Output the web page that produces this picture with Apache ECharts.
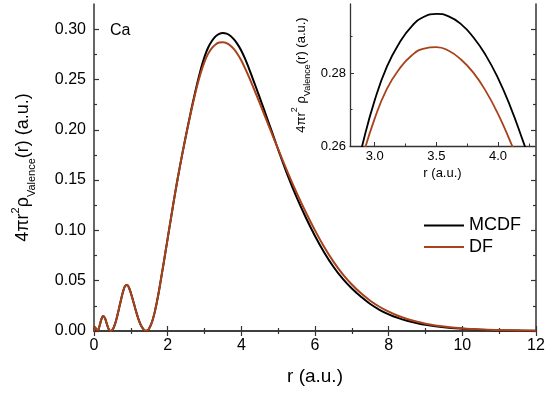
<!DOCTYPE html>
<html><head><meta charset="utf-8">
<script src="https://cdn.jsdelivr.net/npm/echarts@6/dist/echarts.min.js"></script>
<style>html,body{margin:0;padding:0;background:#fff}#c{width:550px;height:394px}</style>
</head><body><div id="c"></div>
<script>
// r (a.u.) sample positions
const r = [0,0.03,0.06,0.1,0.15,0.2,0.25,0.3,0.35,0.4,
  0.45,0.5,0.55,0.6,0.65,0.7,0.75,0.8,0.85,0.9,
  0.95,1.0,1.05,1.1,1.15,1.2,1.25,1.3,1.35,1.4,
  1.45,1.5,1.55,1.6,1.65,1.7,1.75,1.8,1.85,1.9,
  1.95,2.0,2.1,2.2,2.3,2.4,
  2.5,2.6,2.7,2.8,2.9,3.0,3.1,3.2,3.3,3.4,
  3.5,3.6,3.7,3.8,3.9,4.0,4.1,4.2,4.3,4.4,
  4.5,4.6,4.7,4.8,4.9,5.0,
  5.25,5.5,5.75,6.0,6.25,6.5,6.75,7.0,7.25,7.5,
  7.75,8.0,8.25,8.5,8.75,9.0,
  9.5,10,10.5,11,11.5,12];
// MCDF valence density
const mcdf = [0,0.0035,0.002,0.0003,0.005,0.0115,0.0148,0.0125,0.0068,0.0018,
  0,0.0012,0.0048,0.0105,0.0178,0.0258,0.0336,0.0405,0.0450,0.0458,
  0.0430,0.0378,0.0316,0.0250,0.0185,0.0126,0.0077,0.0039,0.0014,0.0002,
  0.0005,0.0027,0.0065,0.0120,0.0190,0.0275,0.0370,0.0475,0.0585,0.0695,
  0.0808,0.0920,0.1145,0.1365,0.1572,0.1765,
  0.1950,0.2128,0.2298,0.2458,0.2602,0.2725,0.2818,0.2882,0.2928,0.2954,
  0.2962,0.2955,0.2934,0.2898,0.2849,0.2786,0.2708,0.2616,0.2519,0.2420,
  0.2319,0.2217,0.2114,0.2011,0.1907,0.1803,
  0.1555,0.1330,0.1128,0.0945,0.0781,0.0639,0.0520,0.0422,0.0340,0.0268,
  0.0211,0.0166,0.0130,0.0102,0.0080,0.0062,
  0.0037,0.0022,0.0012,0.0007,0.0004,0.0002];
// DF valence density
const df = [0,0.0035,0.002,0.0003,0.005,0.0115,0.0148,0.0125,0.0068,0.0018,
  0,0.0012,0.0048,0.0105,0.0178,0.0258,0.0336,0.0405,0.0450,0.0458,
  0.0430,0.0378,0.0316,0.0250,0.0185,0.0126,0.0077,0.0039,0.0014,0.0002,
  0.0005,0.0027,0.0065,0.0120,0.0190,0.0275,0.0370,0.0475,0.0585,0.0695,
  0.0808,0.0920,0.1145,0.1365,0.1572,0.1765,
  0.1945,0.2120,0.2285,0.2437,0.2568,0.2675,0.2757,0.2811,0.2848,0.2867,
  0.2871,0.2861,0.2837,0.2801,0.2751,0.2688,0.2612,0.2530,0.2444,0.2355,
  0.2264,0.2172,0.2080,0.1988,0.1897,0.1807,
  0.1585,0.1375,0.1180,0.1000,0.0835,0.0690,0.0566,0.0462,0.0374,0.0301,
  0.0241,0.0192,0.0152,0.0120,0.0094,0.0073,
  0.0044,0.0026,0.0015,0.0009,0.0005,0.0003];

const yTicks = [0,0.05,0.10,0.15,0.20,0.25,0.30];
const yMinor = [0.025,0.075,0.125,0.175,0.225,0.275];
const insetXTicks = [3.0,3.5,4.0];
const insetXMinor = [3.25,3.75,4.25];
const insetYTicks = [0.26,0.28];
const insetYMinor = [0.27,0.29];
const seriesNames = ['MCDF','DF'];
const colors = ['#000000','#a8421b'];

const FF = "'Liberation Sans', Arial, sans-serif";
const AX = '#333';
const pairs = arr => r.map((x,i)=>[x,arr[i]]);

const chart = echarts.init(document.getElementById('c'), null, {renderer:'canvas'});
const hiddenTickAxis = (extra) => Object.assign({
  type:'value', axisLine:{show:false}, axisLabel:{show:false}, splitLine:{show:false},
  axisTick:{show:true, inside:true, length:3, lineStyle:{color:AX, width:1.2}}
}, extra);

const option = {
  animation:false,
  backgroundColor:'#fff',
  grid:[
    {left:89, top:4, width:447, height:327},
    {left:350, top:4, width:185, height:142}
  ],
  legend:{
    orient:'vertical', left:419, top:210.5, icon:'rect', itemWidth:40, itemHeight:2, itemGap:1.6,
    data:seriesNames,
    textStyle:{fontSize:18, lineHeight:20, fontFamily:FF, color:'#000'}
  },
  graphic:[{type:'text', left:110, top:23, style:{text:'Ca', fontSize:16, fontFamily:FF, fill:'#000'}}],
  xAxis:[
    {type:'value', gridIndex:0, position:'bottom', min:0, max:12, interval:2,
      axisLine:{show:true, lineStyle:{color:AX, width:1.5}},
      axisTick:{show:true, inside:true, length:5, lineStyle:{color:AX, width:1.2}},
      minorTick:{show:true, splitNumber:2, length:3, lineStyle:{color:AX, width:1.2}},
      axisLabel:{fontSize:16, fontFamily:FF, color:'#000', margin:7},
      splitLine:{show:false},
      name:'r (a.u.)', nameLocation:'middle', nameGap:36,
      nameTextStyle:{fontSize:19, fontFamily:FF, color:'#000'}},
    {type:'value', gridIndex:0, position:'top', min:0, max:12, interval:2,
      axisLine:{show:true, lineStyle:{color:AX, width:1.5}},
      axisTick:{show:true, inside:true, length:5, lineStyle:{color:AX, width:1.2}},
      minorTick:{show:true, splitNumber:2, length:3, lineStyle:{color:AX, width:1.2}},
      axisLabel:{show:false}, splitLine:{show:false}},
    {type:'value', gridIndex:1, position:'bottom', min:2.8, max:4.3,
      axisLine:{show:true, lineStyle:{color:AX, width:1.3}},
      axisTick:{show:true, inside:true, length:4, customValues:insetXTicks, lineStyle:{color:AX, width:1}},
      axisLabel:{fontSize:13, fontFamily:FF, color:'#000', margin:4, customValues:insetXTicks,
        formatter:v=>v.toFixed(1)},
      splitLine:{show:false},
      name:'r (a.u.)', nameLocation:'middle', nameGap:21,
      nameTextStyle:{fontSize:13, fontFamily:FF, color:'#000'}},
    hiddenTickAxis({gridIndex:1, position:'bottom', min:2.8, max:4.3,
      axisTick:{show:true, inside:true, length:2.5, customValues:insetXMinor, lineStyle:{color:AX, width:1}}})
  ],
  yAxis:[
    {type:'value', gridIndex:0, position:'left', min:0, max:0.325,
      axisLine:{show:true, lineStyle:{color:AX, width:1.5}},
      axisTick:{show:true, inside:true, length:5, customValues:yTicks, lineStyle:{color:AX, width:1.2}},
      axisLabel:{fontSize:16, fontFamily:FF, color:'#000', margin:8, customValues:yTicks,
        formatter:v=>v.toFixed(2)},
      splitLine:{show:false},
      name:'{m|4πr}{sup|2}{m|ρ}{sub|Valence}{m|(r) (a.u.)}',
      nameLocation:'middle', nameRotate:90, nameGap:56,
      nameTextStyle:{fontSize:18, fontFamily:FF, color:'#000',
        rich:{
          m:{fontSize:18, fontFamily:FF, color:'#000', lineHeight:30, verticalAlign:'middle'},
          sup:{fontSize:11, fontFamily:FF, color:'#000', lineHeight:30, verticalAlign:'top', padding:[2,0,0,0]},
          sub:{fontSize:11, fontFamily:FF, color:'#000', lineHeight:30, verticalAlign:'bottom', padding:[0,0,1,0]}
        }}},
    hiddenTickAxis({gridIndex:0, position:'left', min:0, max:0.325,
      axisTick:{show:true, inside:true, length:3, customValues:yMinor, lineStyle:{color:AX, width:1.2}}}),
    {type:'value', gridIndex:0, position:'right', min:0, max:0.325,
      axisLine:{show:true, lineStyle:{color:AX, width:1.5}},
      axisTick:{show:true, inside:true, length:5, customValues:yTicks, lineStyle:{color:AX, width:1.2}},
      axisLabel:{show:false}, splitLine:{show:false}},
    hiddenTickAxis({gridIndex:0, position:'right', min:0, max:0.325,
      axisTick:{show:true, inside:true, length:3, customValues:yMinor, lineStyle:{color:AX, width:1.2}}}),
    {type:'value', gridIndex:1, position:'left', min:0.26, max:0.2989,
      axisLine:{show:true, lineStyle:{color:AX, width:1.3}},
      axisTick:{show:true, inside:true, length:4, customValues:insetYTicks, lineStyle:{color:AX, width:1}},
      axisLabel:{fontSize:13, fontFamily:FF, color:'#000', margin:4, customValues:insetYTicks,
        formatter:v=>v.toFixed(2)},
      splitLine:{show:false},
      name:'{m|4πr}{sup|2}{m| ρ}{sub|Valence}{m|(r) (a.u.)}',
      nameLocation:'middle', nameRotate:90, nameGap:38,
      nameTextStyle:{fontSize:13, fontFamily:FF, color:'#000',
        rich:{
          m:{fontSize:13, fontFamily:FF, color:'#000', lineHeight:22, verticalAlign:'middle'},
          sup:{fontSize:9, fontFamily:FF, color:'#000', lineHeight:22, verticalAlign:'top'},
          sub:{fontSize:9, fontFamily:FF, color:'#000', lineHeight:22, verticalAlign:'bottom'}
        }}},
    hiddenTickAxis({gridIndex:1, position:'left', min:0.26, max:0.2989,
      axisTick:{show:true, inside:true, length:2.5, customValues:insetYMinor, lineStyle:{color:AX, width:1}}})
  ],
  series:[
    {name:seriesNames[0], type:'line', xAxisIndex:0, yAxisIndex:0, data:pairs(mcdf), showSymbol:false, symbol:'none',
      smooth:0.4, lineStyle:{color:colors[0], width:2}, itemStyle:{color:colors[0]}, z:3},
    {name:seriesNames[1], type:'line', xAxisIndex:0, yAxisIndex:0, data:pairs(df), showSymbol:false, symbol:'none',
      smooth:0.4, lineStyle:{color:colors[1], width:2}, itemStyle:{color:colors[1]}, z:4},
    {name:seriesNames[0], type:'line', xAxisIndex:2, yAxisIndex:4, data:pairs(mcdf), showSymbol:false, symbol:'none',
      smooth:0.5, clip:true, lineStyle:{color:colors[0], width:1.8}, itemStyle:{color:colors[0]}},
    {name:seriesNames[1], type:'line', xAxisIndex:2, yAxisIndex:4, data:pairs(df), showSymbol:false, symbol:'none',
      smooth:0.5, clip:true, lineStyle:{color:colors[1], width:1.8}, itemStyle:{color:colors[1]}}
  ]
};
chart.setOption(option);
</script>
</body></html>
